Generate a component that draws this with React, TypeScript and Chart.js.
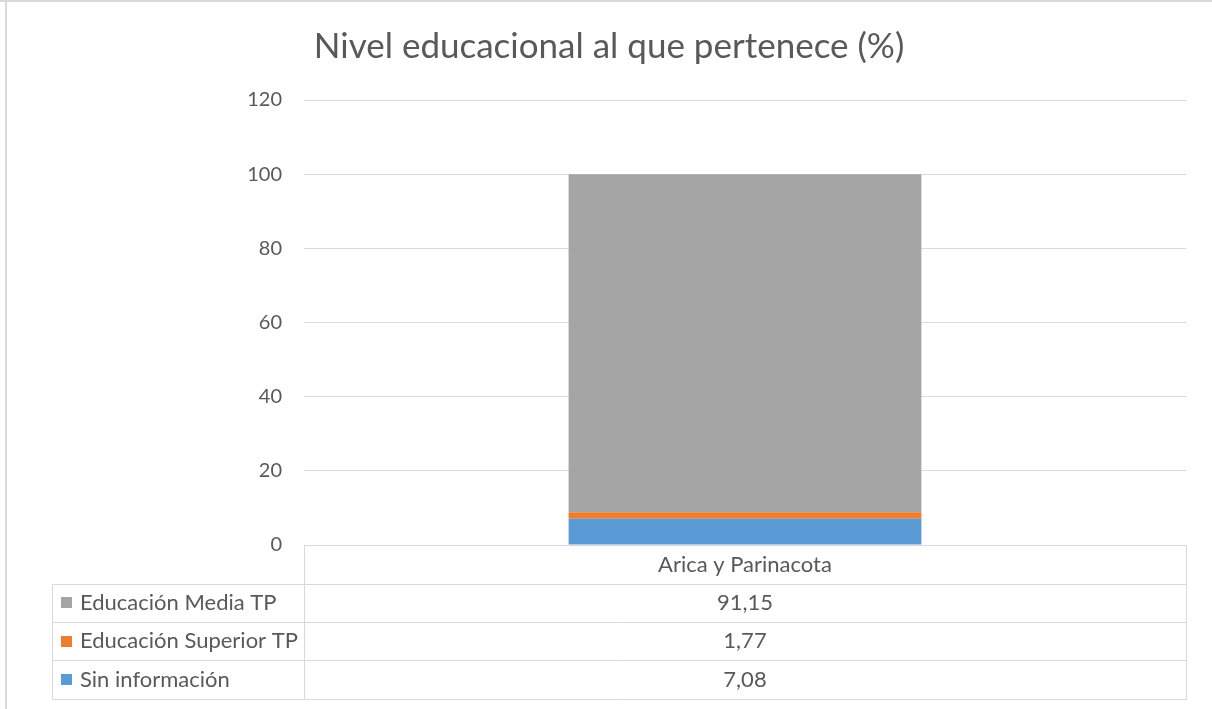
import React, { useEffect, useRef } from "react";
import { Chart, registerables } from "chart.js";

Chart.register(...registerables);

const title = "Nivel educacional al que pertenece (%)";
const categories = ["Arica y Parinacota"];
const seriesNames = ["Sin información", "Educación Superior TP", "Educación Media TP"];
const sinInformacion = [7.08];
const educacionSuperiorTP = [1.77];
const educacionMediaTP = [91.15];
const seriesColors = ["#5B9BD5", "#ED7D31", "#A5A5A5"];
const yTicks = [0, 20, 40, 60, 80, 100, 120];

const FONT = "Lato, 'Open Sans', sans-serif";
const TEXT = "#595959";
const GRID = "#D9D9D9";

const fmt = (v: number) => v.toFixed(2).replace(".", ",");

const tablePlugin = {
  id: "dataTable",
  beforeDraw(chart: any) {
    const ctx = chart.ctx;
    ctx.save();
    ctx.fillStyle = "#ffffff";
    ctx.fillRect(0, 0, chart.width, chart.height);
    ctx.strokeStyle = "#D9D9D9";
    ctx.lineWidth = 2;
    ctx.beginPath();
    ctx.moveTo(0, 1);
    ctx.lineTo(chart.width, 1);
    ctx.moveTo(6, 0);
    ctx.lineTo(6, chart.height);
    ctx.stroke();
    ctx.restore();
  },
  afterDraw(chart: any) {
    const ctx = chart.ctx;
    const area = chart.chartArea;
    const xs = chart.scales.x;
    const rowH = 38.3;
    const top = area.bottom + 0.5;
    const left = 52.5;
    const right = Math.round(area.right) + 0.5;
    const mid = Math.round(area.left) + 0.5;
    const ds = chart.data.datasets;
    const rows = ds.map((d: any, i: number) => i).reverse();
    ctx.save();
    ctx.strokeStyle = GRID;
    ctx.lineWidth = 1;
    ctx.beginPath();
    ctx.moveTo(mid, top);
    ctx.lineTo(right, top);
    for (let r = 1; r <= rows.length + 1; r++) {
      const y = Math.round(top + r * rowH) + 0.5;
      ctx.moveTo(left, y);
      ctx.lineTo(right, y);
    }
    const bottom = Math.round(top + (rows.length + 1) * rowH) + 0.5;
    ctx.moveTo(left, Math.round(top + rowH) + 0.5);
    ctx.lineTo(left, bottom);
    ctx.moveTo(mid, top);
    ctx.lineTo(mid, bottom);
    ctx.moveTo(right, top);
    ctx.lineTo(right, bottom);
    ctx.stroke();

    ctx.fillStyle = TEXT;
    ctx.font = `22px ${FONT}`;
    ctx.textBaseline = "middle";
    ctx.textAlign = "center";
    chart.data.labels.forEach((lab: string, ci: number) => {
      const cx = xs.getPixelForValue(ci);
      ctx.fillText(lab, cx, top + rowH / 2);
    });
    rows.forEach((di: number, r: number) => {
      const yc = top + (r + 1) * rowH + rowH / 2;
      const d = ds[di];
      ctx.fillStyle = d.backgroundColor;
      ctx.fillRect(61, Math.round(yc - 5.5), 11, 11);
      ctx.fillStyle = TEXT;
      ctx.textAlign = "left";
      ctx.fillText(d.label, 80, yc);
      ctx.textAlign = "center";
      d.data.forEach((v: number, ci: number) => {
        ctx.fillText(fmt(v), xs.getPixelForValue(ci), yc);
      });
    });
    ctx.restore();
  },
};

export default function App() {
  const ref = useRef<HTMLCanvasElement | null>(null);
  useEffect(() => {
    document.body.style.margin = "0";
    const seriesData = [sinInformacion, educacionSuperiorTP, educacionMediaTP];
    const chart = new Chart(ref.current!, {
      type: "bar",
      data: {
        labels: categories,
        datasets: seriesNames.map((name, i) => ({
          label: name,
          data: seriesData[i],
          backgroundColor: seriesColors[i],
          borderWidth: 0,
          barPercentage: 0.4,
          categoryPercentage: 1.0,
        })),
      },
      options: {
        animation: false,
        responsive: false,
        maintainAspectRatio: false,
        layout: { padding: { left: 32, right: 26, top: 0, bottom: 0 } },
        plugins: {
          legend: { display: false },
          tooltip: { enabled: false },
          title: {
            display: true,
            text: title,
            color: TEXT,
            font: { family: FONT, size: 35, weight: "normal", lineHeight: 1.2 },
            padding: { top: 26, bottom: 32 },
          },
        },
        scales: {
          x: {
            stacked: true,
            grid: { display: false },
            border: { display: false },
            ticks: { display: false },
            afterFit: (s: any) => {
              s.height = 164;
            },
          },
          y: {
            stacked: true,
            min: 0,
            max: 120,
            afterBuildTicks: (s: any) => {
              s.ticks = yTicks.map((v) => ({ value: v }));
            },
            grid: { color: GRID, lineWidth: 1, drawTicks: false },
            border: { display: false },
            ticks: {
              color: TEXT,
              padding: 22,
              font: { family: FONT, size: 20 },
            },
            afterFit: (s: any) => {
              s.width = 272;
            },
          },
        },
      },
      plugins: [tablePlugin],
    });
    return () => chart.destroy();
  }, []);
  return (
    <div style={{ position: "absolute", left: 0, top: 0, width: 1212, height: 709 }}>
      <canvas ref={ref} width={1212} height={709} style={{ width: 1212, height: 709, display: "block" }} />
    </div>
  );
}
